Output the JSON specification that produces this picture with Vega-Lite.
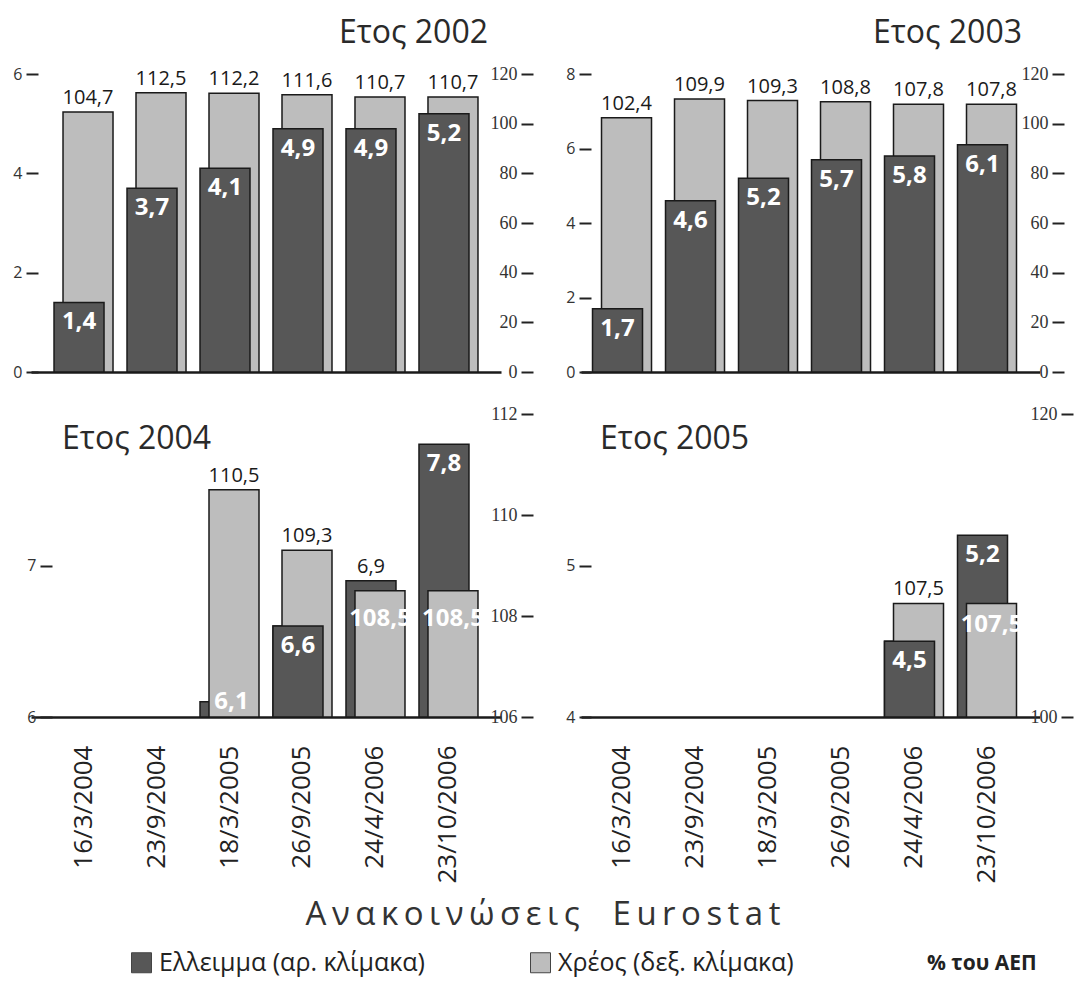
{
  "$schema": "https://vega.github.io/schema/vega-lite/v6.json",
  "background": "white",
  "padding": {"left": 12, "top": 17, "right": 5, "bottom": 5},
  "data": {"values": [
    {"year": 2002, "date": "16/3/2004", "deficit": 1.4, "debt": 104.7},
    {"year": 2002, "date": "23/9/2004", "deficit": 3.7, "debt": 112.5},
    {"year": 2002, "date": "18/3/2005", "deficit": 4.1, "debt": 112.2},
    {"year": 2002, "date": "26/9/2005", "deficit": 4.9, "debt": 111.6},
    {"year": 2002, "date": "24/4/2006", "deficit": 4.9, "debt": 110.7},
    {"year": 2002, "date": "23/10/2006", "deficit": 5.2, "debt": 110.7},
    {"year": 2003, "date": "16/3/2004", "deficit": 1.7, "debt": 102.4},
    {"year": 2003, "date": "23/9/2004", "deficit": 4.6, "debt": 109.9},
    {"year": 2003, "date": "18/3/2005", "deficit": 5.2, "debt": 109.3},
    {"year": 2003, "date": "26/9/2005", "deficit": 5.7, "debt": 108.8},
    {"year": 2003, "date": "24/4/2006", "deficit": 5.8, "debt": 107.8},
    {"year": 2003, "date": "23/10/2006", "deficit": 6.1, "debt": 107.8},
    {"year": 2004, "date": "18/3/2005", "deficit": 6.1, "debt": 110.5},
    {"year": 2004, "date": "26/9/2005", "deficit": 6.6, "debt": 109.3},
    {"year": 2004, "date": "24/4/2006", "deficit": 6.9, "debt": 108.5},
    {"year": 2004, "date": "23/10/2006", "deficit": 7.8, "debt": 108.5},
    {"year": 2005, "date": "24/4/2006", "deficit": 4.5, "debt": 107.5},
    {"year": 2005, "date": "23/10/2006", "deficit": 5.2, "debt": 107.5}
  ]},
  "config": {
    "view": {"stroke": null},
    "font": "Open Sans",
    "locale": {"number": {"decimal": ",", "thousands": ".", "grouping": [3], "currency": ["", " €"]}}
  },
  "columns": 2,
  "bounds": "flush",
  "align": "each",
  "spacing": {"row": 42, "column": 80},
  "concat": [
    {
      "width": 470, "height": 298,
      "title": {"text": "Ετος 2002", "anchor": "end", "frame": "group", "offset": -10, "dx": -13, "fontSize": 32, "font": "Open Sans", "fontWeight": "normal", "color": "#2a2a2a", "baseline": "alphabetic"},
      "transform": [{"filter": "datum.year === 2002"}],
      "resolve": {"scale": {"y": "independent"}, "axis": {"y": "independent"}},
      "layer": [
        {"mark": {"type": "bar", "xOffset": 4.5, "stroke": "#1a1a1a", "strokeWidth": 1.5},
         "encoding": {
           "x": {"field": "date", "type": "nominal", "scale": {"type": "band", "domain": ["16/3/2004","23/9/2004","18/3/2005","26/9/2005","24/4/2006","23/10/2006"], "paddingInner": 0.315, "paddingOuter": 0.377}, "axis": {"labels": false, "ticks": false, "domainColor": "#1a1a1a", "domainWidth": 2.5, "title": null, "grid": false}},
           "y": {"field": "debt", "type": "quantitative", "scale": {"domain": [0, 120], "nice": false}, "axis": {"orient": "right", "offset": 20, "values": [0,20,40,60,80,100,120], "tickSize": 12, "tickWidth": 2, "tickColor": "#222", "labelAlign": "right", "labelPadding": -16, "labelFont": "Liberation Serif", "labelFontSize": 18, "labelColor": "#333", "domain": false, "grid": false, "title": null}},
           "y2": {"datum": 0},
           "color": {"datum": "Χρέος (δεξ. κλίμακα)", "type": "nominal", "scale": {"domain": ["Ελλειμμα (αρ. κλίμακα)", "Χρέος (δεξ. κλίμακα)", "% του ΑΕΠ"], "range": ["#575757", "#bdbdbd", "#ffffff"]}}
         }},
        {"mark": {"type": "bar", "xOffset": -4.5, "stroke": "#1a1a1a", "strokeWidth": 1.5},
         "encoding": {
           "x": {"field": "date", "type": "nominal", "scale": {"type": "band", "domain": ["16/3/2004","23/9/2004","18/3/2005","26/9/2005","24/4/2006","23/10/2006"], "paddingInner": 0.315, "paddingOuter": 0.377}, "axis": {"labels": false, "ticks": false, "domainColor": "#1a1a1a", "domainWidth": 2.5, "title": null, "grid": false}},
           "y": {"field": "deficit", "type": "quantitative", "scale": {"domain": [0, 6], "nice": false}, "axis": {"orient": "left", "offset": -7, "values": [0,2,4,6], "tickSize": 12, "tickWidth": 2, "tickColor": "#222", "labelPadding": 4, "labelFontSize": 16, "labelColor": "#333", "domain": false, "grid": false, "title": null}},
           "y2": {"datum": 0},
           "color": {"datum": "Ελλειμμα (αρ. κλίμακα)", "type": "nominal", "scale": {"domain": ["Ελλειμμα (αρ. κλίμακα)", "Χρέος (δεξ. κλίμακα)", "% του ΑΕΠ"], "range": ["#575757", "#bdbdbd", "#ffffff"]},
             "legend": {"orient": "none", "legendX": 98, "legendY": 825, "direction": "horizontal",
               "title": "Α\u2009ν\u2009α\u2009κ\u2009ο\u2009ι\u2009ν\u2009ώ\u2009σ\u2009ε\u2009ι\u2009ς\u2003E\u2009u\u2009r\u2009o\u2009s\u2009t\u2009a\u2009t",
               "titleOrient": "top", "titleAnchor": "middle", "titleFont": "Open Sans", "titleFontSize": 33, "titleFontWeight": "normal", "titleColor": "#333", "titlePadding": 18, "titleLimit": 0,
               "symbolType": "square", "symbolSize": 400, "symbolStrokeColor": "#444", "symbolStrokeWidth": 1,
               "labelFont": "Open Sans", "labelFontSize": 25, "labelColor": "#222", "labelLimit": 0, "labelOffset": 5, "columnPadding": 103,
               "encode": {
                 "title": {"update": {"dx": {"value": -40}}},
                 "symbols": {"update": {"opacity": {"signal": "datum.value === '% του ΑΕΠ' ? 0 : 1"}}},
                 "labels": {"update": {"fontWeight": {"signal": "datum.value === '% του ΑΕΠ' ? 'bold' : 'normal'"}, "fontSize": {"signal": "datum.value === '% του ΑΕΠ' ? 21 : 25"}}}
               }}}
         }},
        {"mark": {"type": "text", "xOffset": 4.5, "dy": -8, "baseline": "alphabetic", "fontSize": 20, "font": "Open Sans", "color": "#1a1a1a"},
         "encoding": {
           "x": {"field": "date", "type": "nominal", "scale": {"type": "band", "domain": ["16/3/2004","23/9/2004","18/3/2005","26/9/2005","24/4/2006","23/10/2006"], "paddingInner": 0.315, "paddingOuter": 0.377}, "axis": {"labels": false, "ticks": false, "domainColor": "#1a1a1a", "domainWidth": 2.5, "title": null, "grid": false}},
           "y": {"field": "debt", "type": "quantitative", "scale": {"domain": [0, 120], "nice": false}, "axis": null},
           "text": {"field": "debt", "type": "quantitative", "format": ".1f"}
         }},
        {"mark": {"type": "text", "xOffset": -4.5, "dy": 8, "baseline": "top", "fontSize": 24, "fontWeight": "bold", "font": "Open Sans", "color": "white"},
         "encoding": {
           "x": {"field": "date", "type": "nominal", "scale": {"type": "band", "domain": ["16/3/2004","23/9/2004","18/3/2005","26/9/2005","24/4/2006","23/10/2006"], "paddingInner": 0.315, "paddingOuter": 0.377}, "axis": {"labels": false, "ticks": false, "domainColor": "#1a1a1a", "domainWidth": 2.5, "title": null, "grid": false}},
           "y": {"field": "deficit", "type": "quantitative", "scale": {"domain": [0, 6], "nice": false}, "axis": null},
           "text": {"field": "deficit", "type": "quantitative", "format": ".1f"}
         }}
      ]
    },
    {
      "width": 458.5, "height": 298,
      "title": {"text": "Ετος 2003", "anchor": "end", "frame": "group", "offset": -10, "dx": -17.5, "fontSize": 32, "font": "Open Sans", "fontWeight": "normal", "color": "#2a2a2a", "baseline": "alphabetic"},
      "transform": [{"filter": "datum.year === 2003"}],
      "resolve": {"scale": {"y": "independent"}, "axis": {"y": "independent"}},
      "layer": [
        {"mark": {"type": "bar", "xOffset": 4.5, "stroke": "#1a1a1a", "strokeWidth": 1.5},
         "encoding": {
           "x": {"field": "date", "type": "nominal", "scale": {"type": "band", "domain": ["16/3/2004","23/9/2004","18/3/2005","26/9/2005","24/4/2006","23/10/2006"], "paddingInner": 0.315, "paddingOuter": 0.298, "align": 0.368}, "axis": {"labels": false, "ticks": false, "domainColor": "#1a1a1a", "domainWidth": 2.5, "title": null, "grid": false}},
           "y": {"field": "debt", "type": "quantitative", "scale": {"domain": [0, 120], "nice": false}, "axis": {"orient": "right", "offset": 12.5, "values": [0,20,40,60,80,100,120], "tickSize": 12, "tickWidth": 2, "tickColor": "#222", "labelAlign": "right", "labelPadding": -16, "labelFont": "Liberation Serif", "labelFontSize": 18, "labelColor": "#333", "domain": false, "grid": false, "title": null}},
           "y2": {"datum": 0},
           "color": {"datum": "Χρέος (δεξ. κλίμακα)", "type": "nominal", "scale": {"domain": ["Ελλειμμα (αρ. κλίμακα)", "Χρέος (δεξ. κλίμακα)", "% του ΑΕΠ"], "range": ["#575757", "#bdbdbd", "#ffffff"]}}
         }},
        {"mark": {"type": "bar", "xOffset": -4.5, "stroke": "#1a1a1a", "strokeWidth": 1.5},
         "encoding": {
           "x": {"field": "date", "type": "nominal", "scale": {"type": "band", "domain": ["16/3/2004","23/9/2004","18/3/2005","26/9/2005","24/4/2006","23/10/2006"], "paddingInner": 0.315, "paddingOuter": 0.298, "align": 0.368}, "axis": {"labels": false, "ticks": false, "domainColor": "#1a1a1a", "domainWidth": 2.5, "title": null, "grid": false}},
           "y": {"field": "deficit", "type": "quantitative", "scale": {"domain": [0, 8], "nice": false}, "axis": {"orient": "left", "offset": -10, "values": [0,2,4,6,8], "tickSize": 12, "tickWidth": 2, "tickColor": "#222", "labelPadding": 4, "labelFontSize": 16, "labelColor": "#333", "domain": false, "grid": false, "title": null}},
           "y2": {"datum": 0},
           "color": {"datum": "Ελλειμμα (αρ. κλίμακα)", "type": "nominal", "scale": {"domain": ["Ελλειμμα (αρ. κλίμακα)", "Χρέος (δεξ. κλίμακα)", "% του ΑΕΠ"], "range": ["#575757", "#bdbdbd", "#ffffff"]}}
         }},
        {"mark": {"type": "text", "xOffset": 4.5, "dy": -8, "baseline": "alphabetic", "fontSize": 20, "font": "Open Sans", "color": "#1a1a1a"},
         "encoding": {
           "x": {"field": "date", "type": "nominal", "scale": {"type": "band", "domain": ["16/3/2004","23/9/2004","18/3/2005","26/9/2005","24/4/2006","23/10/2006"], "paddingInner": 0.315, "paddingOuter": 0.298, "align": 0.368}, "axis": {"labels": false, "ticks": false, "domainColor": "#1a1a1a", "domainWidth": 2.5, "title": null, "grid": false}},
           "y": {"field": "debt", "type": "quantitative", "scale": {"domain": [0, 120], "nice": false}, "axis": null},
           "text": {"field": "debt", "type": "quantitative", "format": ".1f"}
         }},
        {"mark": {"type": "text", "xOffset": -4.5, "dy": 8, "baseline": "top", "fontSize": 24, "fontWeight": "bold", "font": "Open Sans", "color": "white"},
         "encoding": {
           "x": {"field": "date", "type": "nominal", "scale": {"type": "band", "domain": ["16/3/2004","23/9/2004","18/3/2005","26/9/2005","24/4/2006","23/10/2006"], "paddingInner": 0.315, "paddingOuter": 0.298, "align": 0.368}, "axis": {"labels": false, "ticks": false, "domainColor": "#1a1a1a", "domainWidth": 2.5, "title": null, "grid": false}},
           "y": {"field": "deficit", "type": "quantitative", "scale": {"domain": [0, 8], "nice": false}, "axis": null},
           "text": {"field": "deficit", "type": "quantitative", "format": ".1f"}
         }}
      ]
    },
    {
      "width": 470, "height": 303,
      "title": {"text": "Ετος 2004", "anchor": "start", "frame": "group", "offset": -76, "dx": 31, "fontSize": 32, "font": "Open Sans", "fontWeight": "normal", "color": "#2a2a2a", "baseline": "alphabetic"},
      "transform": [{"filter": "datum.year === 2004"}],
      "resolve": {"scale": {"y": "independent"}, "axis": {"y": "independent"}},
      "layer": [
        {"mark": {"type": "bar", "xOffset": -4.5, "stroke": "#1a1a1a", "strokeWidth": 1.5},
         "encoding": {
           "x": {"field": "date", "type": "nominal", "scale": {"type": "band", "domain": ["16/3/2004","23/9/2004","18/3/2005","26/9/2005","24/4/2006","23/10/2006"], "paddingInner": 0.315, "paddingOuter": 0.377}, "axis": {"labelAngle": -90, "labelFont": "Open Sans", "labelFontSize": 26, "labelColor": "#222", "labelPadding": 28, "labelLimit": 0, "labelOverlap": false, "ticks": false, "domainColor": "#1a1a1a", "domainWidth": 2.5, "title": null, "grid": false}},
           "y": {"field": "deficit", "type": "quantitative", "scale": {"domain": [6, 8], "nice": false, "zero": false}, "axis": {"orient": "left", "offset": -21, "values": [6,7], "tickSize": 12, "tickWidth": 2, "tickColor": "#222", "labelPadding": 4, "labelFontSize": 16, "labelColor": "#333", "domain": false, "grid": false, "title": null}},
           "y2": {"datum": 6},
           "color": {"datum": "Ελλειμμα (αρ. κλίμακα)", "type": "nominal", "scale": {"domain": ["Ελλειμμα (αρ. κλίμακα)", "Χρέος (δεξ. κλίμακα)", "% του ΑΕΠ"], "range": ["#575757", "#bdbdbd", "#ffffff"]}}
         }},
        {"mark": {"type": "bar", "xOffset": 4.5, "stroke": "#1a1a1a", "strokeWidth": 1.5},
         "encoding": {
           "x": {"field": "date", "type": "nominal", "scale": {"type": "band", "domain": ["16/3/2004","23/9/2004","18/3/2005","26/9/2005","24/4/2006","23/10/2006"], "paddingInner": 0.315, "paddingOuter": 0.377}, "axis": {"labelAngle": -90, "labelFont": "Open Sans", "labelFontSize": 26, "labelColor": "#222", "labelPadding": 28, "labelLimit": 0, "labelOverlap": false, "ticks": false, "domainColor": "#1a1a1a", "domainWidth": 2.5, "title": null, "grid": false}},
           "y": {"field": "debt", "type": "quantitative", "scale": {"domain": [106, 112], "nice": false, "zero": false}, "axis": {"orient": "right", "offset": 20, "values": [106,108,110,112], "tickSize": 12, "tickWidth": 2, "tickColor": "#222", "labelAlign": "right", "labelPadding": -16, "labelFont": "Liberation Serif", "labelFontSize": 18, "labelColor": "#333", "domain": false, "grid": false, "title": null}},
           "y2": {"datum": 106},
           "color": {"datum": "Χρέος (δεξ. κλίμακα)", "type": "nominal", "scale": {"domain": ["Ελλειμμα (αρ. κλίμακα)", "Χρέος (δεξ. κλίμακα)", "% του ΑΕΠ"], "range": ["#575757", "#bdbdbd", "#ffffff"]}}
         }},
        {"transform": [{"filter": "datum.date === '26/9/2005'"}],
         "mark": {"type": "bar", "xOffset": -4.5, "stroke": "#1a1a1a", "strokeWidth": 1.5},
         "encoding": {
           "x": {"field": "date", "type": "nominal", "scale": {"type": "band", "domain": ["16/3/2004","23/9/2004","18/3/2005","26/9/2005","24/4/2006","23/10/2006"], "paddingInner": 0.315, "paddingOuter": 0.377}, "axis": {"labelAngle": -90, "labelFont": "Open Sans", "labelFontSize": 26, "labelColor": "#222", "labelPadding": 28, "labelLimit": 0, "labelOverlap": false, "ticks": false, "domainColor": "#1a1a1a", "domainWidth": 2.5, "title": null, "grid": false}},
           "y": {"field": "deficit", "type": "quantitative", "scale": {"domain": [6, 8], "nice": false, "zero": false}, "axis": null},
           "y2": {"datum": 6},
           "color": {"datum": "Ελλειμμα (αρ. κλίμακα)", "type": "nominal", "scale": {"domain": ["Ελλειμμα (αρ. κλίμακα)", "Χρέος (δεξ. κλίμακα)", "% του ΑΕΠ"], "range": ["#575757", "#bdbdbd", "#ffffff"]}}
         }},
        {"transform": [{"filter": {"field": "date", "oneOf": ["18/3/2005", "26/9/2005"]}}],
         "mark": {"type": "text", "xOffset": 4.5, "dy": -8, "baseline": "alphabetic", "fontSize": 20, "font": "Open Sans", "color": "#1a1a1a"},
         "encoding": {
           "x": {"field": "date", "type": "nominal", "scale": {"type": "band", "domain": ["16/3/2004","23/9/2004","18/3/2005","26/9/2005","24/4/2006","23/10/2006"], "paddingInner": 0.315, "paddingOuter": 0.377}, "axis": {"labelAngle": -90, "labelFont": "Open Sans", "labelFontSize": 26, "labelColor": "#222", "labelPadding": 28, "labelLimit": 0, "labelOverlap": false, "ticks": false, "domainColor": "#1a1a1a", "domainWidth": 2.5, "title": null, "grid": false}},
           "y": {"field": "debt", "type": "quantitative", "scale": {"domain": [106, 112], "nice": false, "zero": false}, "axis": null},
           "text": {"field": "debt", "type": "quantitative", "format": ".1f"}
         }},
        {"transform": [{"filter": {"field": "date", "oneOf": ["24/4/2006", "23/10/2006"]}}],
         "mark": {"type": "text", "xOffset": 4.5, "dy": 16, "baseline": "top", "fontSize": 24, "fontWeight": "bold", "font": "Open Sans", "color": "white"},
         "encoding": {
           "x": {"field": "date", "type": "nominal", "scale": {"type": "band", "domain": ["16/3/2004","23/9/2004","18/3/2005","26/9/2005","24/4/2006","23/10/2006"], "paddingInner": 0.315, "paddingOuter": 0.377}, "axis": {"labelAngle": -90, "labelFont": "Open Sans", "labelFontSize": 26, "labelColor": "#222", "labelPadding": 28, "labelLimit": 0, "labelOverlap": false, "ticks": false, "domainColor": "#1a1a1a", "domainWidth": 2.5, "title": null, "grid": false}},
           "y": {"field": "debt", "type": "quantitative", "scale": {"domain": [106, 112], "nice": false, "zero": false}, "axis": null},
           "text": {"field": "debt", "type": "quantitative", "format": ".1f"}
         }},
        {"transform": [{"filter": {"field": "date", "oneOf": ["26/9/2005", "23/10/2006"]}}],
         "mark": {"type": "text", "xOffset": -4.5, "dy": 8, "baseline": "top", "fontSize": 24, "fontWeight": "bold", "font": "Open Sans", "color": "white"},
         "encoding": {
           "x": {"field": "date", "type": "nominal", "scale": {"type": "band", "domain": ["16/3/2004","23/9/2004","18/3/2005","26/9/2005","24/4/2006","23/10/2006"], "paddingInner": 0.315, "paddingOuter": 0.377}, "axis": {"labelAngle": -90, "labelFont": "Open Sans", "labelFontSize": 26, "labelColor": "#222", "labelPadding": 28, "labelLimit": 0, "labelOverlap": false, "ticks": false, "domainColor": "#1a1a1a", "domainWidth": 2.5, "title": null, "grid": false}},
           "y": {"field": "deficit", "type": "quantitative", "scale": {"domain": [6, 8], "nice": false, "zero": false}, "axis": null},
           "text": {"field": "deficit", "type": "quantitative", "format": ".1f"}
         }},
        {"transform": [{"filter": "datum.date === '24/4/2006'"}],
         "mark": {"type": "text", "xOffset": -4.5, "dy": -8, "baseline": "alphabetic", "fontSize": 20, "font": "Open Sans", "color": "#1a1a1a"},
         "encoding": {
           "x": {"field": "date", "type": "nominal", "scale": {"type": "band", "domain": ["16/3/2004","23/9/2004","18/3/2005","26/9/2005","24/4/2006","23/10/2006"], "paddingInner": 0.315, "paddingOuter": 0.377}, "axis": {"labelAngle": -90, "labelFont": "Open Sans", "labelFontSize": 26, "labelColor": "#222", "labelPadding": 28, "labelLimit": 0, "labelOverlap": false, "ticks": false, "domainColor": "#1a1a1a", "domainWidth": 2.5, "title": null, "grid": false}},
           "y": {"field": "deficit", "type": "quantitative", "scale": {"domain": [6, 8], "nice": false, "zero": false}, "axis": null},
           "text": {"field": "deficit", "type": "quantitative", "format": ".1f"}
         }},
        {"transform": [{"filter": "datum.date === '18/3/2005'"}],
         "mark": {"type": "text", "xOffset": 2, "dy": 7, "baseline": "alphabetic", "fontSize": 24, "fontWeight": "bold", "font": "Open Sans", "color": "white"},
         "encoding": {
           "x": {"field": "date", "type": "nominal", "scale": {"type": "band", "domain": ["16/3/2004","23/9/2004","18/3/2005","26/9/2005","24/4/2006","23/10/2006"], "paddingInner": 0.315, "paddingOuter": 0.377}, "axis": {"labelAngle": -90, "labelFont": "Open Sans", "labelFontSize": 26, "labelColor": "#222", "labelPadding": 28, "labelLimit": 0, "labelOverlap": false, "ticks": false, "domainColor": "#1a1a1a", "domainWidth": 2.5, "title": null, "grid": false}},
           "y": {"field": "deficit", "type": "quantitative", "scale": {"domain": [6, 8], "nice": false, "zero": false}, "axis": null},
           "text": {"field": "deficit", "type": "quantitative", "format": ".1f"}
         }}
      ]
    },
    {
      "width": 458.5, "height": 303,
      "title": {"text": "Ετος 2005", "anchor": "start", "frame": "group", "offset": -76, "dx": 19, "fontSize": 32, "font": "Open Sans", "fontWeight": "normal", "color": "#2a2a2a", "baseline": "alphabetic"},
      "transform": [{"filter": "datum.year === 2005"}],
      "resolve": {"scale": {"y": "independent"}, "axis": {"y": "independent"}},
      "layer": [
        {"mark": {"type": "bar", "xOffset": -4.5, "stroke": "#1a1a1a", "strokeWidth": 1.5},
         "encoding": {
           "x": {"field": "date", "type": "nominal", "scale": {"type": "band", "domain": ["16/3/2004","23/9/2004","18/3/2005","26/9/2005","24/4/2006","23/10/2006"], "paddingInner": 0.315, "paddingOuter": 0.298, "align": 0.368}, "axis": {"labelAngle": -90, "labelFont": "Open Sans", "labelFontSize": 26, "labelColor": "#222", "labelPadding": 28, "labelLimit": 0, "labelOverlap": false, "ticks": false, "domainColor": "#1a1a1a", "domainWidth": 2.5, "title": null, "grid": false}},
           "y": {"field": "deficit", "type": "quantitative", "scale": {"domain": [4, 6], "nice": false, "zero": false}, "axis": {"orient": "left", "offset": -10, "values": [4,5], "tickSize": 12, "tickWidth": 2, "tickColor": "#222", "labelPadding": 4, "labelFontSize": 16, "labelColor": "#333", "domain": false, "grid": false, "title": null}},
           "y2": {"datum": 4},
           "color": {"datum": "Ελλειμμα (αρ. κλίμακα)", "type": "nominal", "scale": {"domain": ["Ελλειμμα (αρ. κλίμακα)", "Χρέος (δεξ. κλίμακα)", "% του ΑΕΠ"], "range": ["#575757", "#bdbdbd", "#ffffff"]}}
         }},
        {"mark": {"type": "bar", "xOffset": 4.5, "stroke": "#1a1a1a", "strokeWidth": 1.5},
         "encoding": {
           "x": {"field": "date", "type": "nominal", "scale": {"type": "band", "domain": ["16/3/2004","23/9/2004","18/3/2005","26/9/2005","24/4/2006","23/10/2006"], "paddingInner": 0.315, "paddingOuter": 0.298, "align": 0.368}, "axis": {"labelAngle": -90, "labelFont": "Open Sans", "labelFontSize": 26, "labelColor": "#222", "labelPadding": 28, "labelLimit": 0, "labelOverlap": false, "ticks": false, "domainColor": "#1a1a1a", "domainWidth": 2.5, "title": null, "grid": false}},
           "y": {"field": "debt", "type": "quantitative", "scale": {"domain": [100, 120], "nice": false, "zero": false}, "axis": {"orient": "right", "offset": 21.5, "values": [100,120], "tickSize": 12, "tickWidth": 2, "tickColor": "#222", "labelAlign": "right", "labelPadding": -16, "labelFont": "Liberation Serif", "labelFontSize": 18, "labelColor": "#333", "domain": false, "grid": false, "title": null}},
           "y2": {"datum": 100},
           "color": {"datum": "Χρέος (δεξ. κλίμακα)", "type": "nominal", "scale": {"domain": ["Ελλειμμα (αρ. κλίμακα)", "Χρέος (δεξ. κλίμακα)", "% του ΑΕΠ"], "range": ["#575757", "#bdbdbd", "#ffffff"]}}
         }},
        {"transform": [{"filter": "datum.date === '24/4/2006'"}],
         "mark": {"type": "bar", "xOffset": -4.5, "stroke": "#1a1a1a", "strokeWidth": 1.5},
         "encoding": {
           "x": {"field": "date", "type": "nominal", "scale": {"type": "band", "domain": ["16/3/2004","23/9/2004","18/3/2005","26/9/2005","24/4/2006","23/10/2006"], "paddingInner": 0.315, "paddingOuter": 0.298, "align": 0.368}, "axis": {"labelAngle": -90, "labelFont": "Open Sans", "labelFontSize": 26, "labelColor": "#222", "labelPadding": 28, "labelLimit": 0, "labelOverlap": false, "ticks": false, "domainColor": "#1a1a1a", "domainWidth": 2.5, "title": null, "grid": false}},
           "y": {"field": "deficit", "type": "quantitative", "scale": {"domain": [4, 6], "nice": false, "zero": false}, "axis": null},
           "y2": {"datum": 4},
           "color": {"datum": "Ελλειμμα (αρ. κλίμακα)", "type": "nominal", "scale": {"domain": ["Ελλειμμα (αρ. κλίμακα)", "Χρέος (δεξ. κλίμακα)", "% του ΑΕΠ"], "range": ["#575757", "#bdbdbd", "#ffffff"]}}
         }},
        {"transform": [{"filter": "datum.date === '24/4/2006'"}],
         "mark": {"type": "text", "xOffset": 4.5, "dy": -8, "baseline": "alphabetic", "fontSize": 20, "font": "Open Sans", "color": "#1a1a1a"},
         "encoding": {
           "x": {"field": "date", "type": "nominal", "scale": {"type": "band", "domain": ["16/3/2004","23/9/2004","18/3/2005","26/9/2005","24/4/2006","23/10/2006"], "paddingInner": 0.315, "paddingOuter": 0.298, "align": 0.368}, "axis": {"labelAngle": -90, "labelFont": "Open Sans", "labelFontSize": 26, "labelColor": "#222", "labelPadding": 28, "labelLimit": 0, "labelOverlap": false, "ticks": false, "domainColor": "#1a1a1a", "domainWidth": 2.5, "title": null, "grid": false}},
           "y": {"field": "debt", "type": "quantitative", "scale": {"domain": [100, 120], "nice": false, "zero": false}, "axis": null},
           "text": {"field": "debt", "type": "quantitative", "format": ".1f"}
         }},
        {"transform": [{"filter": "datum.date === '23/10/2006'"}],
         "mark": {"type": "text", "xOffset": 4.5, "dy": 10, "baseline": "top", "fontSize": 24, "fontWeight": "bold", "font": "Open Sans", "color": "white"},
         "encoding": {
           "x": {"field": "date", "type": "nominal", "scale": {"type": "band", "domain": ["16/3/2004","23/9/2004","18/3/2005","26/9/2005","24/4/2006","23/10/2006"], "paddingInner": 0.315, "paddingOuter": 0.298, "align": 0.368}, "axis": {"labelAngle": -90, "labelFont": "Open Sans", "labelFontSize": 26, "labelColor": "#222", "labelPadding": 28, "labelLimit": 0, "labelOverlap": false, "ticks": false, "domainColor": "#1a1a1a", "domainWidth": 2.5, "title": null, "grid": false}},
           "y": {"field": "debt", "type": "quantitative", "scale": {"domain": [100, 120], "nice": false, "zero": false}, "axis": null},
           "text": {"field": "debt", "type": "quantitative", "format": ".1f"}
         }},
        {"mark": {"type": "text", "xOffset": -4.5, "dy": 8, "baseline": "top", "fontSize": 24, "fontWeight": "bold", "font": "Open Sans", "color": "white"},
         "encoding": {
           "x": {"field": "date", "type": "nominal", "scale": {"type": "band", "domain": ["16/3/2004","23/9/2004","18/3/2005","26/9/2005","24/4/2006","23/10/2006"], "paddingInner": 0.315, "paddingOuter": 0.298, "align": 0.368}, "axis": {"labelAngle": -90, "labelFont": "Open Sans", "labelFontSize": 26, "labelColor": "#222", "labelPadding": 28, "labelLimit": 0, "labelOverlap": false, "ticks": false, "domainColor": "#1a1a1a", "domainWidth": 2.5, "title": null, "grid": false}},
           "y": {"field": "deficit", "type": "quantitative", "scale": {"domain": [4, 6], "nice": false, "zero": false}, "axis": null},
           "text": {"field": "deficit", "type": "quantitative", "format": ".1f"}
         }}
      ]
    }
  ]
}
